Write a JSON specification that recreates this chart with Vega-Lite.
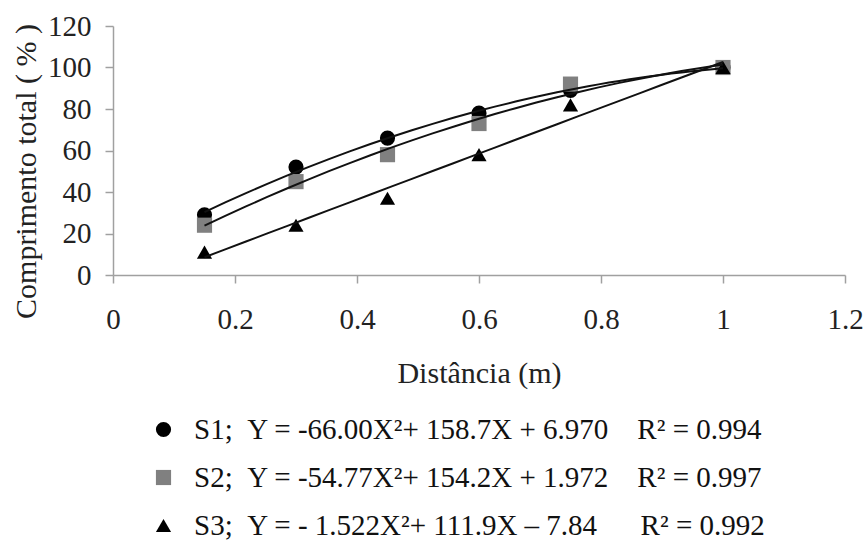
{
  "$schema": "https://vega.github.io/schema/vega-lite/v6.json",
  "width": 732,
  "height": 249,
  "autosize": {"type": "none"},
  "padding": {"left": 113, "top": 26, "right": 20, "bottom": 267},
  "background": "white",
  "config": {
    "view": {"stroke": null},
    "font": "Liberation Serif, DejaVu Serif, serif",
    "axis": {"grid": false, "domainColor": "#a0a0a0", "tickColor": "#a0a0a0", "labelColor": "#222222", "titleColor": "#222222", "titleFontWeight": "normal", "labelFontSize": 29, "titleFontSize": 30, "tickSize": 8, "domainWidth": 1.5, "tickWidth": 1.5}
  },
  "data": {
    "values": [
      {"serie": "S1", "distancia": 0.15, "comprimento": 29},
      {"serie": "S1", "distancia": 0.3, "comprimento": 52},
      {"serie": "S1", "distancia": 0.45, "comprimento": 66},
      {"serie": "S1", "distancia": 0.6, "comprimento": 78},
      {"serie": "S1", "distancia": 0.75, "comprimento": 89},
      {"serie": "S1", "distancia": 1.0, "comprimento": 100},
      {"serie": "S2", "distancia": 0.15, "comprimento": 24},
      {"serie": "S2", "distancia": 0.3, "comprimento": 45},
      {"serie": "S2", "distancia": 0.45, "comprimento": 58},
      {"serie": "S2", "distancia": 0.6, "comprimento": 73},
      {"serie": "S2", "distancia": 0.75, "comprimento": 92},
      {"serie": "S2", "distancia": 1.0, "comprimento": 100},
      {"serie": "S3", "distancia": 0.15, "comprimento": 11},
      {"serie": "S3", "distancia": 0.3, "comprimento": 24},
      {"serie": "S3", "distancia": 0.45, "comprimento": 37},
      {"serie": "S3", "distancia": 0.6, "comprimento": 58},
      {"serie": "S3", "distancia": 0.75, "comprimento": 82},
      {"serie": "S3", "distancia": 1.0, "comprimento": 100}
    ]
  },
  "layer": [
    {
      "mark": {"type": "point", "filled": true, "opacity": 1},
      "encoding": {
        "x": {
          "field": "distancia", "type": "quantitative",
          "scale": {"domain": [0, 1.2], "nice": false, "zero": false},
          "axis": {"title": "Distância (m)", "values": [0, 0.2, 0.4, 0.6, 0.8, 1, 1.2], "format": "~g", "labelPadding": 22, "titlePadding": 24, "labelFlush": false, "labelFont": "Liberation Serif, DejaVu Serif, serif", "titleFont": "Liberation Serif, DejaVu Serif, serif"}
        },
        "y": {
          "field": "comprimento", "type": "quantitative",
          "scale": {"domain": [0, 120], "nice": false},
          "axis": {"title": "Comprimento total ( % )", "values": [0, 20, 40, 60, 80, 100, 120], "labelPadding": 14, "titlePadding": 6, "titleY": 145, "labelFont": "Liberation Serif, DejaVu Serif, serif", "titleFont": "Liberation Serif, DejaVu Serif, serif"}
        },
        "shape": {
          "field": "serie", "type": "nominal",
          "scale": {"domain": ["S1", "S2", "S3"], "range": ["circle", "square", "triangle-up"]},
          "legend": {"orient": "none", "legendX": 36, "legendY": 389, "title": null, "padding": 0, "labelFontSize": 29, "labelFont": "Liberation Serif, DejaVu Serif, serif", "labelColor": "#111111", "labelLimit": 0, "labelOffset": 16, "symbolSize": 230, "rowPadding": 18, "symbolStrokeWidth": 0,
            "labelExpr": "datum.label == 'S1' ? 'S1;\u00a0\u00a0Y = -66.00X²+ 158.7X + 6.970\u00a0\u00a0\u00a0\u00a0R² = 0.994' : datum.label == 'S2' ? 'S2;\u00a0\u00a0Y = -54.77X²+ 154.2X + 1.972\u00a0\u00a0\u00a0\u00a0R² = 0.997' : 'S3;\u00a0\u00a0Y = - 1.522X²+ 111.9X – 7.84\u00a0\u00a0\u00a0\u00a0\u00a0\u00a0R² = 0.992'"}
        },
        "color": {
          "field": "serie", "type": "nominal",
          "scale": {"domain": ["S1", "S2", "S3"], "range": ["#000000", "#808080", "#000000"]},
          "legend": {"orient": "none", "legendX": 36, "legendY": 389, "title": null, "padding": 0, "labelFontSize": 29, "labelFont": "Liberation Serif, DejaVu Serif, serif", "labelColor": "#111111", "labelLimit": 0, "labelOffset": 16, "symbolSize": 230, "rowPadding": 18, "symbolStrokeWidth": 0,
            "labelExpr": "datum.label == 'S1' ? 'S1;\u00a0\u00a0Y = -66.00X²+ 158.7X + 6.970\u00a0\u00a0\u00a0\u00a0R² = 0.994' : datum.label == 'S2' ? 'S2;\u00a0\u00a0Y = -54.77X²+ 154.2X + 1.972\u00a0\u00a0\u00a0\u00a0R² = 0.997' : 'S3;\u00a0\u00a0Y = - 1.522X²+ 111.9X – 7.84\u00a0\u00a0\u00a0\u00a0\u00a0\u00a0R² = 0.992'"}
        },
        "size": {"value": 230}
      }
    },
    {
      "transform": [
        {"regression": "comprimento", "on": "distancia", "groupby": ["serie"], "method": "poly", "order": 2, "extent": [0.15, 1]}
      ],
      "mark": {"type": "line", "color": "#111111", "strokeWidth": 2},
      "encoding": {
        "x": {"field": "distancia", "type": "quantitative"},
        "y": {"field": "comprimento", "type": "quantitative"},
        "detail": {"field": "serie"}
      }
    }
  ]
}
